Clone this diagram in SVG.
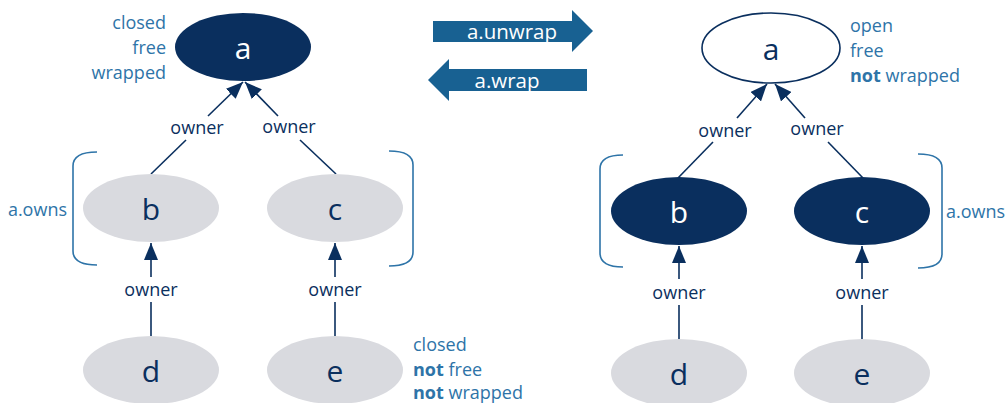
<svg xmlns="http://www.w3.org/2000/svg" width="1005" height="403" viewBox="0 0 1005 403">
  <style>
    text { font-family: "Open Sans", "Liberation Sans", sans-serif; }
    .dark { fill: #0a2f5e; }
    .light { fill: #d9dadf; }
    .open { fill: #ffffff; stroke: #0a2f5e; stroke-width: 1.6; }
    .nl { font-size: 30px; text-anchor: middle; dominant-baseline: central; }
    .nl-w { fill: #ffffff; }
    .nl-d { fill: #0a2f5e; }
    .edge { stroke: #0a2f5e; stroke-width: 1.6; fill: none; }
    .elabel { font-size: 18px; fill: #0a2f5e; text-anchor: middle; }
    .state { font-size: 18px; fill: #2e74a8; }
    .bracket { stroke: #2e74a8; stroke-width: 1.6; fill: none; }
    .banner { fill: #186192; }
    .banner-t { font-size: 20.5px; fill: #ffffff; text-anchor: middle; }
    .b { font-weight: bold; }
  </style>
  <defs>
    <marker id="ah" viewBox="0 0 17 14" refX="17" refY="7" markerWidth="17" markerHeight="14" orient="auto" markerUnits="userSpaceOnUse">
      <path d="M0,0 L17,7 L0,14 z" fill="#0a2f5e"/>
    </marker>
  </defs>

  <!-- operation banners -->
  <g id="op-unwrap">
    <path class="banner" d="M433,21 H572 V10 L593,31 L572,52 V42 H433 z"/>
    <text class="banner-t" x="512" y="39">a.unwrap</text>
  </g>
  <g id="op-wrap">
    <path class="banner" d="M587,69 H449 V59 L428,80 L449,101 V91 H587 z"/>
    <text class="banner-t" x="507" y="88">a.wrap</text>
  </g>

  <!-- connectors -->
  <g id="connectors">
    <!-- left state -->
    <line class="edge" x1="208" y1="116" x2="243" y2="82" marker-end="url(#ah)"/>
    <line class="edge" x1="278" y1="116" x2="245" y2="82" marker-end="url(#ah)"/>
    <line class="edge" x1="186" y1="140" x2="151" y2="174"/>
    <line class="edge" x1="300" y1="140" x2="336" y2="174"/>
    <text class="elabel" x="197" y="134">owner</text>
    <text class="elabel" x="289" y="133">owner</text>

    <line class="edge" x1="151" y1="277" x2="151" y2="243" marker-end="url(#ah)"/>
    <line class="edge" x1="335" y1="277" x2="335" y2="243" marker-end="url(#ah)"/>
    <line class="edge" x1="151" y1="302" x2="151" y2="336"/>
    <line class="edge" x1="335" y1="302" x2="335" y2="336"/>
    <text class="elabel" x="151" y="296">owner</text>
    <text class="elabel" x="335" y="296">owner</text>

    <!-- right state -->
    <line class="edge" x1="737" y1="118" x2="767" y2="84" marker-end="url(#ah)"/>
    <line class="edge" x1="805" y1="118" x2="775" y2="84" marker-end="url(#ah)"/>
    <line class="edge" x1="713" y1="142" x2="678" y2="178"/>
    <line class="edge" x1="828" y1="142" x2="863" y2="178"/>
    <text class="elabel" x="725" y="137">owner</text>
    <text class="elabel" x="817" y="135">owner</text>

    <line class="edge" x1="679" y1="279" x2="679" y2="246" marker-end="url(#ah)"/>
    <line class="edge" x1="862" y1="279" x2="862" y2="246" marker-end="url(#ah)"/>
    <line class="edge" x1="679" y1="305" x2="679" y2="339"/>
    <line class="edge" x1="862" y1="305" x2="862" y2="339"/>
    <text class="elabel" x="679" y="299">owner</text>
    <text class="elabel" x="862" y="299">owner</text>
  </g>

  <!-- left state: a wrapped -->
  <g id="L-a">
    <ellipse class="dark" cx="243" cy="47" rx="68" ry="34"/>
    <text class="nl nl-w" x="243" y="47">a</text>
  </g>
  <g id="L-b">
    <ellipse class="light" cx="151" cy="208" rx="68" ry="34"/>
    <text class="nl nl-d" x="151" y="208">b</text>
  </g>
  <g id="L-c">
    <ellipse class="light" cx="335" cy="208" rx="68" ry="34"/>
    <text class="nl nl-d" x="335" y="208">c</text>
  </g>
  <g id="L-d">
    <ellipse class="light" cx="151" cy="370" rx="68" ry="34"/>
    <text class="nl nl-d" x="151" y="370">d</text>
  </g>
  <g id="L-e">
    <ellipse class="light" cx="335" cy="370" rx="68" ry="34"/>
    <text class="nl nl-d" x="335" y="370">e</text>
  </g>
  <g id="L-owns">
    <path class="bracket" d="M97,152 C82,152 73,156 73,166 V251 C73,261 82,265 97,265"/>
    <path class="bracket" d="M389,151 C404,151 413,155 413,165 V252 C413,262 404,266 389,266"/>
    <text class="state" x="67" y="216" text-anchor="end">a.owns</text>
  </g>
  <g id="L-a-state">
    <text class="state" x="166" y="29" text-anchor="end">closed</text>
    <text class="state" x="166" y="54" text-anchor="end">free</text>
    <text class="state" x="166" y="79" text-anchor="end">wrapped</text>
  </g>
  <g id="L-e-state">
    <text class="state" x="413" y="351">closed</text>
    <text class="state" x="413" y="376"><tspan class="b">not</tspan> free</text>
    <text class="state" x="413" y="399"><tspan class="b">not</tspan> wrapped</text>
  </g>

  <!-- right state: a unwrapped -->
  <g id="R-a">
    <ellipse class="open" cx="771" cy="48" rx="69" ry="35"/>
    <text class="nl nl-d" x="771" y="48">a</text>
  </g>
  <g id="R-b">
    <ellipse class="dark" cx="679" cy="211" rx="68" ry="34"/>
    <text class="nl nl-w" x="679" y="211">b</text>
  </g>
  <g id="R-c">
    <ellipse class="dark" cx="862" cy="211" rx="68" ry="34"/>
    <text class="nl nl-w" x="862" y="211">c</text>
  </g>
  <g id="R-d">
    <ellipse class="light" cx="679" cy="373" rx="68" ry="34"/>
    <text class="nl nl-d" x="679" y="373">d</text>
  </g>
  <g id="R-e">
    <ellipse class="light" cx="862" cy="373" rx="68" ry="34"/>
    <text class="nl nl-d" x="862" y="373">e</text>
  </g>
  <g id="R-owns">
    <path class="bracket" d="M623,155 C608,155 600,159 600,169 V253 C600,263 608,267 623,267"/>
    <path class="bracket" d="M918,154 C933,154 942,158 942,168 V254 C942,264 933,268 918,268"/>
    <text class="state" x="946" y="218">a.owns</text>
  </g>
  <g id="R-a-state">
    <text class="state" x="850" y="32">open</text>
    <text class="state" x="850" y="57">free</text>
    <text class="state" x="850" y="82"><tspan class="b">not</tspan> wrapped</text>
  </g>
</svg>
